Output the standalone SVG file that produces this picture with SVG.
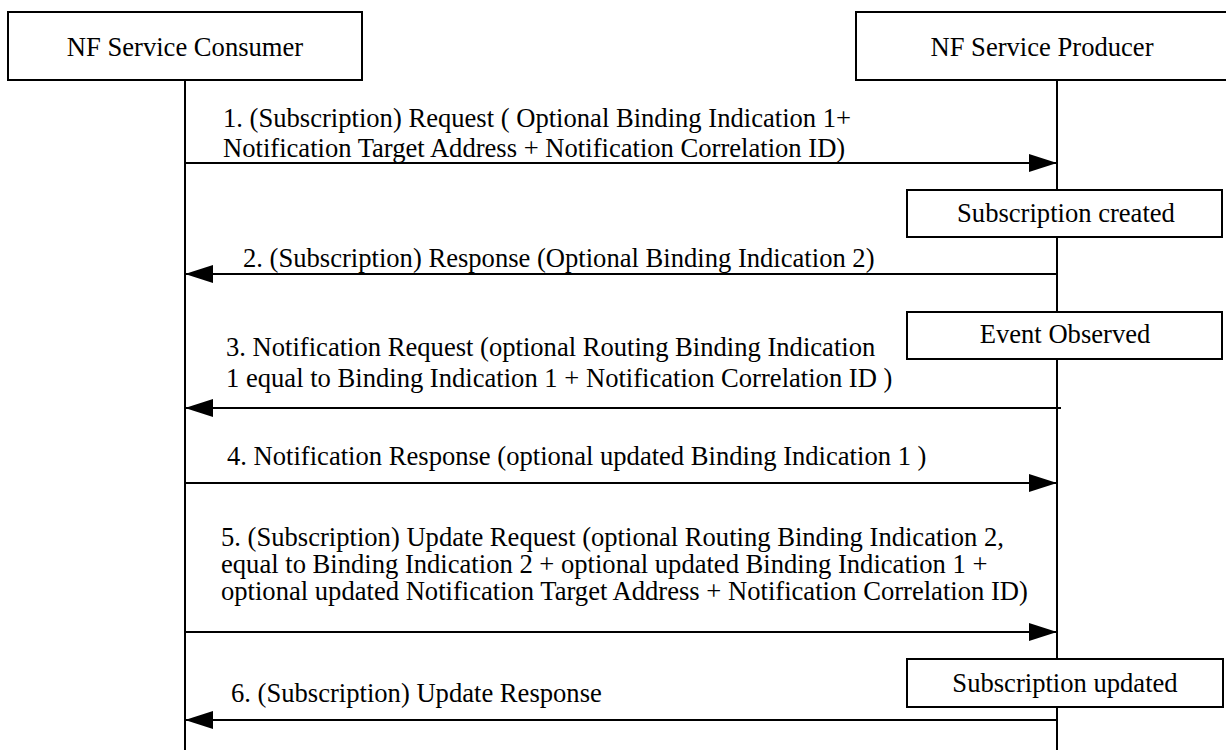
<svg xmlns="http://www.w3.org/2000/svg" width="1226" height="756" viewBox="0 0 1226 756">
<defs>
<style>
.box{fill:#fff;stroke:#000;stroke-width:2}
.life{stroke:#000;stroke-width:2;fill:none}
.msg{stroke:#000;stroke-width:2;fill:none}
.c{text-anchor:middle}
</style>
<marker id="ah" viewBox="0 0 28 18" refX="28" refY="9" markerWidth="28" markerHeight="18" markerUnits="userSpaceOnUse" orient="auto">
<path d="M0,0 L28,9 L0,18 Z" fill="#000"/>
</marker>
</defs>
<rect width="1226" height="756" fill="#fff"/>
<g id="lifelines">
<line class="life" x1="185" y1="80" x2="185" y2="750"/>
<line class="life" x1="1057" y1="80" x2="1057" y2="750"/>
</g>
<g font-family="Liberation Serif, DejaVu Serif, serif" font-size="26.6" fill="#000">
<g id="consumer">
<rect class="box" x="8" y="12" width="354" height="68"/>
<text class="c" x="185" y="56">NF Service Consumer</text>
</g>
<g id="producer">
<rect class="box" x="856" y="12" width="380" height="68"/>
<text class="c" x="1042" y="56">NF Service Producer</text>
</g>
<g id="subscription-created">
<rect class="box" x="907" y="190" width="315" height="47"/>
<text class="c" x="1066" y="222">Subscription created</text>
</g>
<g id="event-observed">
<rect class="box" x="907" y="312" width="315" height="47"/>
<text class="c" x="1065" y="343">Event Observed</text>
</g>
<g id="subscription-updated">
<rect class="box" x="907" y="659" width="316" height="48"/>
<text class="c" x="1065" y="692">Subscription updated</text>
</g>
<g id="connectors">
<line class="msg" x1="185" y1="163" x2="1057" y2="163" marker-end="url(#ah)"/>
<line class="msg" x1="1057" y1="274" x2="185" y2="274" marker-end="url(#ah)"/>
<line class="msg" x1="1061" y1="408" x2="185" y2="408" marker-end="url(#ah)"/>
<line class="msg" x1="185" y1="483" x2="1057" y2="483" marker-end="url(#ah)"/>
<line class="msg" x1="185" y1="632" x2="1057" y2="632" marker-end="url(#ah)"/>
<line class="msg" x1="1057" y1="720" x2="185" y2="720" marker-end="url(#ah)"/>
</g>
<g id="labels">
<text x="223" y="127">1. (Subscription) Request ( Optional Binding Indication 1+</text>
<text x="223" y="157">Notification Target Address + Notification Correlation ID)</text>
<text x="243" y="267">2. (Subscription) Response (Optional Binding Indication 2)</text>
<text x="226" y="356">3. Notification Request (optional Routing Binding Indication</text>
<text x="226" y="387">1 equal to Binding Indication 1 + Notification Correlation ID )</text>
<text x="227" y="465">4. Notification Response (optional updated Binding Indication 1 )</text>
<text x="221" y="546">5. (Subscription) Update Request (optional Routing Binding Indication 2,</text>
<text x="221" y="573">equal to Binding Indication 2 + optional updated Binding Indication 1 +</text>
<text x="221" y="600">optional updated Notification Target Address + Notification Correlation ID)</text>
<text x="231" y="702">6. (Subscription) Update Response</text>
</g>
</g>
</svg>
